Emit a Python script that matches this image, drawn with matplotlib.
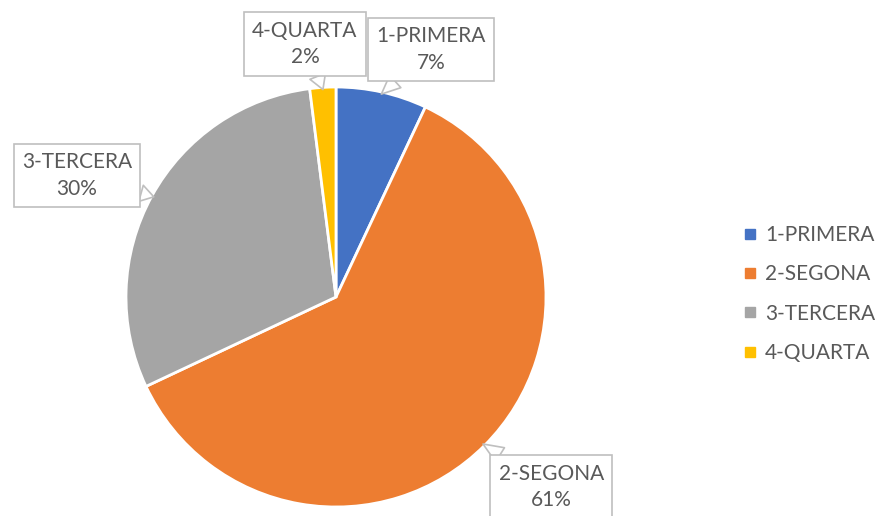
import numpy as np
import matplotlib.pyplot as plt
from matplotlib.lines import Line2D

plt.rcParams['font.family'] = ['Lato', 'DejaVu Sans']

categories = ["1-PRIMERA", "2-SEGONA", "3-TERCERA", "4-QUARTA"]
values = [7, 61, 30, 2]
colors = ["#4472C4", "#ED7D31", "#A5A5A5", "#FFC000"]

# label box centres (data units, pie radius = 1)
label_pos = [(0.452, 1.18), (1.025, -0.905), (-1.233, 0.578), (-0.148, 1.205)]

fig = plt.figure(figsize=(8.75, 5.16), dpi=100)
# pie centre at (336, 297) px, radius 210 px
ax = fig.add_axes([(336 - 210) / 875, (516 - 297 - 210) / 516, 420 / 875, 420 / 516])

wedges, _ = ax.pie(values, colors=colors, startangle=90, counterclock=False,
                   wedgeprops=dict(edgecolor="white", linewidth=2))
ax.set_xlim(-1, 1)
ax.set_ylim(-1, 1)
ax.set_aspect("equal")

total = sum(values)
for w, cat, v, pos in zip(wedges, categories, values, label_pos):
    mid = np.deg2rad((w.theta1 + w.theta2) / 2)
    tip = (np.cos(mid) * 0.99, np.sin(mid) * 0.99)
    ax.annotate(f"{cat}\n{v / total * 100:.0f}%", xy=tip, xytext=pos,
                ha="center", va="center", fontsize=15, color="#595959",
                linespacing=1.42, annotation_clip=False,
                bbox=dict(boxstyle="square,pad=0.4", fc="white", ec="#BFBFBF", lw=1.2),
                arrowprops=dict(arrowstyle="wedge,tail_width=0.8,shrink_factor=0.5",
                                fc="white", ec="#BFBFBF", lw=1.2,
                                shrinkA=0, shrinkB=0))

handles = [Line2D([], [], marker="s", linestyle="none", markersize=7,
                  markerfacecolor=c, markeredgecolor=c) for c in colors]
fig.legend(handles, categories, loc="center left",
           bbox_to_anchor=(743 / 875, 1 - 294 / 516), frameon=False,
           borderpad=0, borderaxespad=0,
           fontsize=15, labelcolor="#595959", handlelength=0.7,
           handletextpad=0.35, labelspacing=0.93)

fig.savefig("out.png", dpi=100)
